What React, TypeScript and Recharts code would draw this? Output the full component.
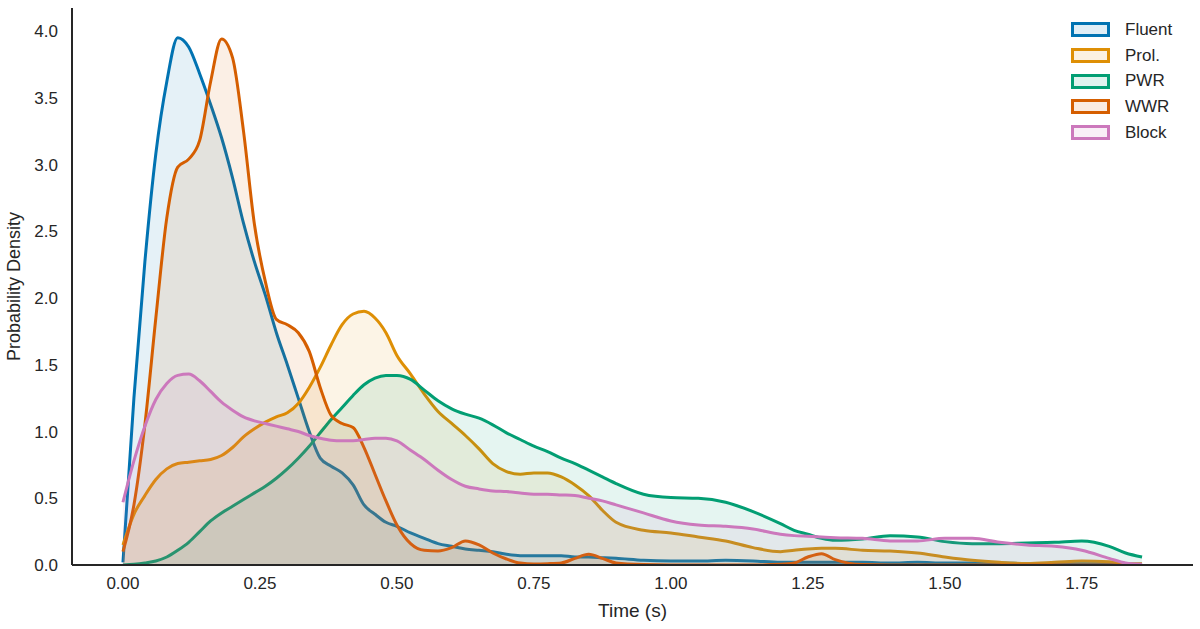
import { Area, AreaChart, XAxis, YAxis } from 'recharts'

// time grid (s) shared by every density curve
const times = [
  0, 0.02, 0.04, 0.06, 0.08, 0.1, 0.12, 0.14, 0.16, 0.18, 0.2, 0.22, 0.24, 0.26, 0.28, 0.3, 0.32, 0.34, 0.36,
  0.38, 0.4, 0.42, 0.44, 0.46, 0.48, 0.5, 0.525, 0.55, 0.575, 0.6, 0.625, 0.65, 0.675, 0.7, 0.725, 0.75, 0.775,
  0.8, 0.825, 0.85, 0.875, 0.9, 0.95, 1.0, 1.05, 1.1, 1.15, 1.2, 1.225, 1.25, 1.275, 1.3, 1.35, 1.4, 1.45, 1.5,
  1.55, 1.6, 1.65, 1.7, 1.75, 1.8, 1.83, 1.86,
]

const fluent = [
  0.02, 1.25, 2.27, 3.08, 3.62, 3.95, 3.88, 3.68, 3.45, 3.2, 2.9, 2.56, 2.27, 2.02, 1.74, 1.5, 1.25, 1.0, 0.8,
  0.74, 0.69, 0.6, 0.45, 0.38, 0.32, 0.29, 0.24, 0.2, 0.16, 0.14, 0.12, 0.11, 0.1, 0.08, 0.07, 0.07, 0.07,
  0.07, 0.06, 0.06, 0.055, 0.05, 0.035, 0.03, 0.03, 0.035, 0.03, 0.02, 0.02, 0.02, 0.02, 0.02, 0.02, 0.015,
  0.02, 0.015, 0.015, 0.015, 0.01, 0.01, 0.01, 0.01, 0.005, 0.005,
]

const prol = [
  0.15, 0.38, 0.52, 0.64, 0.72, 0.76, 0.77, 0.78, 0.79, 0.82, 0.88, 0.96, 1.02, 1.07, 1.11, 1.14, 1.21, 1.33,
  1.48, 1.65, 1.8, 1.88, 1.9, 1.85, 1.74, 1.57, 1.43, 1.28, 1.15, 1.06, 0.97, 0.87, 0.76, 0.7, 0.68, 0.69,
  0.69, 0.66, 0.6, 0.52, 0.41, 0.32, 0.26, 0.24, 0.21, 0.18, 0.13, 0.1, 0.11, 0.12, 0.125, 0.125, 0.11,
  0.105, 0.09, 0.06, 0.035, 0.02, 0.012, 0.02, 0.03, 0.025, 0.012, 0.01,
]

const pwr = [
  0, 0.005, 0.015, 0.03, 0.06, 0.11, 0.17, 0.25, 0.33, 0.39, 0.44, 0.49, 0.54, 0.59, 0.65, 0.72, 0.8, 0.89,
  0.99, 1.09, 1.18, 1.27, 1.35, 1.4, 1.42, 1.42, 1.39, 1.31, 1.23, 1.17, 1.13, 1.1, 1.05, 0.99, 0.94, 0.89,
  0.85, 0.8, 0.76, 0.71, 0.66, 0.61, 0.53, 0.505, 0.5, 0.47, 0.4, 0.31, 0.26, 0.23, 0.2, 0.185, 0.195, 0.22,
  0.21, 0.175, 0.16, 0.16, 0.165, 0.17, 0.18, 0.14, 0.09, 0.06,
]

const wwr = [
  0.1, 0.45, 1.05, 1.85, 2.6, 2.98, 3.04, 3.18, 3.62, 3.94, 3.8, 3.25, 2.55, 2.12, 1.84, 1.8, 1.74, 1.6,
  1.33, 1.12, 1.06, 1.03, 0.88, 0.68, 0.48, 0.3, 0.16, 0.11, 0.105, 0.13, 0.18, 0.15, 0.09, 0.045, 0.015,
  0.008, 0.01, 0.015, 0.05, 0.08, 0.05, 0.015, 0.003, 0, 0, 0, 0, 0.005, 0.015, 0.06, 0.085, 0.04, 0.003, 0,
  0, 0, 0, 0, 0, 0, 0, 0, 0, 0,
]

const block = [
  0.47, 0.78, 1.04, 1.24, 1.36, 1.42, 1.43, 1.38, 1.3, 1.22, 1.16, 1.11, 1.08, 1.06, 1.04, 1.02, 1.0, 0.97,
  0.95, 0.935, 0.93, 0.93, 0.94, 0.95, 0.95, 0.93, 0.86, 0.79, 0.71, 0.64, 0.59, 0.57, 0.555, 0.55, 0.54,
  0.53, 0.53, 0.525, 0.52, 0.5, 0.48, 0.45, 0.39, 0.33, 0.3, 0.29, 0.27, 0.23, 0.22, 0.215, 0.21, 0.205, 0.2,
  0.18, 0.18, 0.2, 0.2, 0.17, 0.15, 0.14, 0.11, 0.05, 0.015, 0.005,
]

const xTicks = [0, 0.25, 0.5, 0.75, 1.0, 1.25, 1.5, 1.75]
const yTicks = [0, 0.5, 1.0, 1.5, 2.0, 2.5, 3.0, 3.5, 4.0]

const series = [
  { key: 'fluent', name: 'Fluent', color: '#0173b2' },
  { key: 'prol', name: 'Prol.', color: '#de8f05' },
  { key: 'pwr', name: 'PWR', color: '#029e73' },
  { key: 'wwr', name: 'WWR', color: '#d55e00' },
  { key: 'block', name: 'Block', color: '#cc78bc' },
]

const data = times.map((t, i) => ({
  t,
  fluent: fluent[i],
  prol: prol[i],
  pwr: pwr[i],
  wwr: wwr[i],
  block: block[i],
}))

const font = '"Liberation Sans", Arial, sans-serif'
const ink = '#262626'

// legend kept outside the chart so it doesn't eat plot space
const LegendBox = () => (
  <div style={{ position: 'absolute', left: 1071, top: 17, fontFamily: font, fontSize: 17, color: ink }}>
    {series.map(s => (
      <div key={s.key} style={{ display: 'flex', alignItems: 'center', height: 25.7 }}>
        <span
          style={{
            display: 'inline-block',
            width: 33,
            height: 9,
            border: `3px solid ${s.color}`,
            background: s.color + '1f',
            marginRight: 15,
          }}
        />
        <span>{s.name}</span>
      </div>
    ))}
  </div>
)

export default function App() {
  return (
    <div style={{ position: 'absolute', left: 0, top: 0, width: 1200, height: 629, background: '#fff' }}>
      <AreaChart width={1200} height={629} data={data} margin={{ top: 8, right: 7, bottom: 0, left: 0 }}>
        <XAxis
          dataKey='t'
          type='number'
          domain={[-0.093, 1.953]}
          ticks={xTicks}
          tickFormatter={(v: number) => v.toFixed(2)}
          allowDataOverflow
          height={64}
          tickLine={false}
          tickSize={0}
          tickMargin={12}
          axisLine={{ stroke: ink, strokeWidth: 2 }}
          tick={{ fill: ink, fontSize: 17, fontFamily: font }}
          label={{ value: 'Time (s)', position: 'insideBottom', offset: 12, fill: ink, fontSize: 19, fontFamily: font }}
        />
        <YAxis
          type='number'
          domain={[0, 4.172]}
          ticks={yTicks}
          tickFormatter={(v: number) => v.toFixed(1)}
          allowDataOverflow
          width={72}
          tickLine={false}
          tickSize={0}
          tickMargin={14}
          axisLine={{ stroke: ink, strokeWidth: 2 }}
          tick={{ fill: ink, fontSize: 17, fontFamily: font }}
          label={{
            value: 'Probability Density',
            angle: -90,
            position: 'insideLeft',
            offset: 14,
            fill: ink,
            fontSize: 18,
            fontFamily: font,
            style: { textAnchor: 'middle' },
          }}
        />
        {series.map(s => (
          <Area
            key={s.key}
            type='monotone'
            dataKey={s.key}
            name={s.name}
            stroke={s.color}
            strokeWidth={3}
            fill={s.color}
            fillOpacity={0.1}
            dot={false}
            activeDot={false}
            isAnimationActive={false}
          />
        ))}
      </AreaChart>
      <LegendBox />
    </div>
  )
}
